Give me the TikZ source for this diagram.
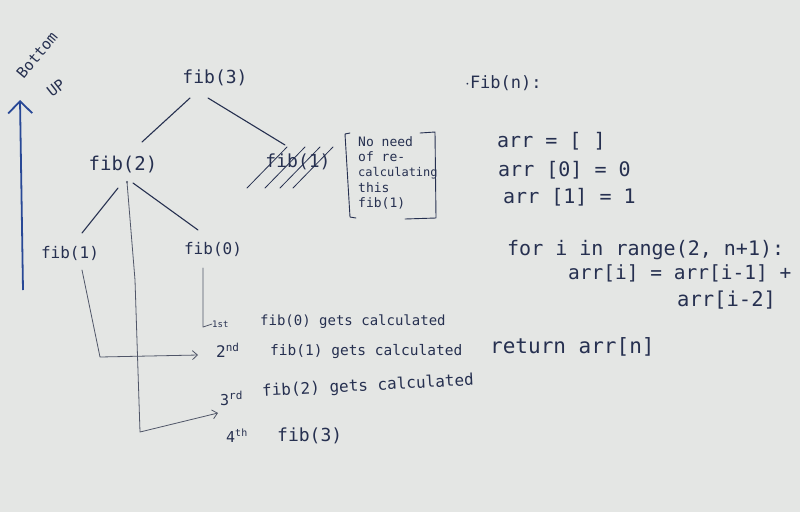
\documentclass[tikz,border=0pt]{standalone}
\usepackage{fontspec}
\setmonofont{DejaVu Sans Mono}
\usetikzlibrary{arrows.meta,calc}
\definecolor{paper}{RGB}{228,230,228}
\definecolor{ink}{RGB}{38,48,80}
\definecolor{pencil}{RGB}{80,86,104}
\definecolor{blueink}{RGB}{40,72,150}
\newcommand{\fsz}[2]{{\fontsize{#1}{#1}\selectfont\ttfamily #2}}
\tikzset{
  hw/.style={text=ink, inner sep=0pt, anchor=center},
  treeline/.style={draw=ink, line width=1.1pt, line cap=round},
  thinline/.style={draw=pencil, line width=0.8pt, line cap=round, line join=round},
  thinarrow/.style={thinline, -{Straight Barb[length=5pt,width=9pt]}},
  bracketline/.style={draw=ink, line width=0.9pt, line cap=round, line join=round},
}
\begin{document}
\begin{tikzpicture}[x=1pt,y=-1pt]
\fill[paper] (0,0) rectangle (800,512);
\useasboundingbox (0,0) rectangle (800,512);

% Bottom up arrow
\node[hw, rotate=50] (bt) at (37,55) {\fsz{15}{Bottom}};
\node[hw, rotate=38] (up) at (56,88) {\fsz{15}{UP}};
\coordinate (arrtop) at (20,100);
\coordinate (arrbot) at (23,290);
\draw[blueink, line width=1.8pt, -{Straight Barb[length=12pt,width=24pt]}] (arrbot) -- (arrtop);

% tree
\node[hw] (f3) at (215,78) {\fsz{18}{fib(3)}};
\node[hw] (f2) at (123,165) {\fsz{19}{fib(2)}};
\node[hw] (f1x) at (298,162) {\fsz{18}{fib(1)}};
\node[hw] (f1) at (70,253) {\fsz{16}{fib(1)}};
\node[hw] (f0) at (213,249) {\fsz{16}{fib(0)}};

\draw[treeline] ($(f3)+(-25,20)$) -- ($(f2)+(19,-23)$);
\draw[treeline] ($(f3)+(-7,20)$) -- ($(f1x)+(-13,-17)$);
\draw[treeline] ($(f2)+(-5,23)$) -- ($(f1)+(12,-20)$);
\draw[treeline] ($(f2)+(10,18)$) -- ($(f0)+(-15,-19)$);

% hatching over the repeated fib(1)
\foreach \dx in {0,18,33,46}{
  \draw[thinline, draw=ink] ($(f1x)+(-51+\dx,26)$) -- ($(f1x)+(-11+\dx,-15)$);
}

% note in brackets
\node[hw, align=left, anchor=north west, font=\linespread{0.9}] (note) at (358,136)
  {\fsz{13}{No need}\\[3pt]\fsz{13}{of re-}\\[3pt]\fsz{12}{calculating}\\[3pt]\fsz{13}{this}\\[3pt]\fsz{13}{fib(1)}};
\draw[bracketline] (350,133) -- (345,134) -- (350,217) -- (356,218);
\draw[bracketline] (420,133) -- (435,132) -- (436,218) -- (405,219);

% order of calculation
\node[hw, anchor=west] (o1) at (212,324) {\fsz{9}{1st}};
\node[hw, anchor=west] (t1) at (260,322) {\fsz{14}{fib(0) gets calculated}};
\node[hw, anchor=west] (o2) at (216,350) {\fsz{16}{2\raisebox{6pt}{\fsz{11}{nd}}}};
\node[hw, anchor=west] (t2) at (270,352) {\fsz{14.5}{fib(1) gets calculated}};
\node[hw, anchor=west] (o3) at (220,398) {\fsz{15}{3\raisebox{6pt}{\fsz{11}{rd}}}};
\node[hw, anchor=west, rotate=3] (t3) at (262,392) {\fsz{16}{fib(2) gets calculated}};
\node[hw, anchor=west] (o4) at (226,436) {\fsz{15}{4\raisebox{6pt}{\fsz{10}{th}}}};
\node[hw, anchor=west] (t4) at (277,436) {\fsz{18}{fib(3)}};

\coordinate (c0) at (203,327);
\draw[thinline] ($(f0)+(-10,19)$) -- (c0) -- (o1.west);
\coordinate (c1) at (100,357);
\coordinate (a2) at (198,355);
\draw[thinarrow] ($(f1)+(12,17)$) -- (c1) -- (a2);
\coordinate (c2a) at (135,280);
\coordinate (c2) at (140,432);
\coordinate (a3) at (218,413);
\fill[pencil] ($(f2)+(4,17)$) circle (1.2pt);
\draw[thinarrow] ($(f2)+(4,17)$) -- (c2a) -- (c2) -- (a3);

% pseudo code
\node[hw, anchor=west] (fn) at (465,83) {\fsz{17}{$\cdot$Fib(n):}};
\node[hw, anchor=west] (l1) at (497,141) {\fsz{20}{arr = [ ]}};
\node[hw, anchor=west] (l2) at (498,170) {\fsz{20}{arr [0] = 0}};
\node[hw, anchor=west] (l3) at (503,197) {\fsz{20}{arr [1] = 1}};
\node[hw, anchor=west] (l4) at (507,250) {\fsz{20}{for i in range(2, n+1):}};
\node[hw, anchor=west] (l5) at (568,273) {\fsz{19.5}{arr[i] = arr[i-1] +}};
\node[hw, anchor=west] (l6) at (677,300) {\fsz{20.5}{arr[i-2]}};
\node[hw, anchor=west] (l7) at (490,347) {\fsz{21}{return arr[n]}};
\end{tikzpicture}
\end{document}
